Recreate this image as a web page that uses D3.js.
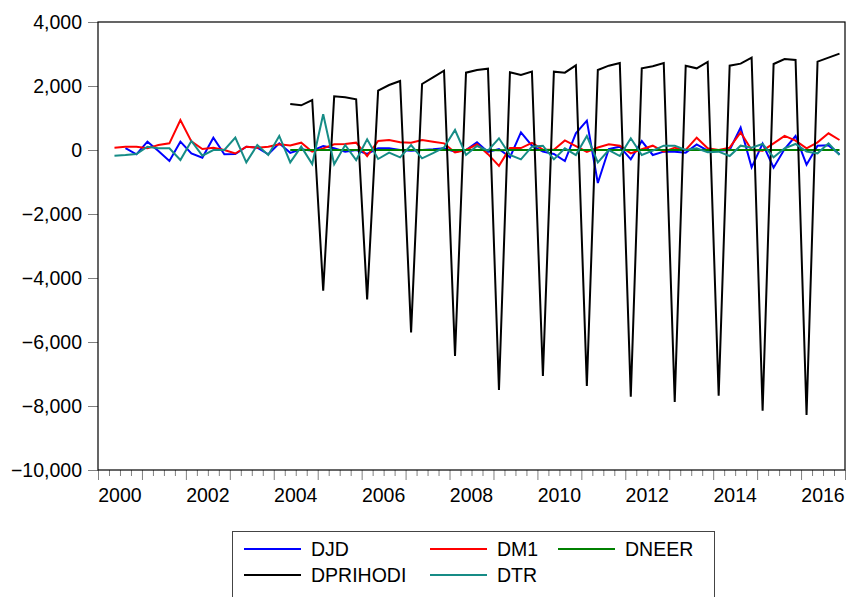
<!DOCTYPE html>
<html>
<head>
<meta charset="utf-8">
<script src="https://cdn.jsdelivr.net/npm/d3@7"></script>
<style>
  body { margin: 0; background: #fff; }
  svg { font-family: "Liberation Sans", Arial, sans-serif; }
</style>
</head>
<body>
<div id="chart"></div>
<script>
// quarterly observations, 2000Q1 .. 2016Q4 (4 values per row = one year)
var startYear = 2000, endYear = 2017;
var labelYears = [2000, 2002, 2004, 2006, 2008, 2010, 2012, 2014, 2016];
var yTicks = [4000, 2000, 0, -2000, -4000, -6000, -8000, -10000];

var djd = [
  null, null, 60, -135,
  260, -30, -344, 260,
  -104, -240, 385, -135,
  -125, 104, 73, -135,
  208, -90, 21, -20,
  125, 52, -52, 0,
  -125, 52, 52, 0,
  -21, 0, 21, 52,
  -52, 0, 240, -60,
  31, -229, 552, 135,
  -52, -125, -344, 521,
  917, -1030, 31, 104,
  -292, 281, -156, -52,
  -52, -83, 177, -20,
  -20, 0, 698, -542,
  200, -552, 30, 438,
  -460, 135, 145, -130
];
var dm1 = [
  null, 73, 104, 104,
  52, 156, 208, 938,
  270, 30, 73, 0,
  -110, 104, 73, 104,
  177, 140, 229, -52,
  52, 177, 187, 229,
  -188, 281, 313, 240,
  229, 313, 260, 208,
  -78, 0, 180, -130,
  -495, 60, 60, 220,
  15, 5, 300, 120,
  -60, 78, 177, 135,
  -104, 25, 135, -52,
  73, 0, 385, 52,
  0, 73, 552, 0,
  -21, 208, 440, 292,
  52, 240, 521, 313
];
var dneer = [
  null, null, null, null,
  null, null, null, null,
  null, null, null, null,
  null, null, null, null,
  null, 2, -1, 1,
  3, -2, 1, 2,
  -1, 2, 0, -2,
  1, 2, -1, 0,
  2, -3, 1, -1,
  -4, 3, 2, 1,
  -2, 1, 0, 2,
  -1, 1, 2, -1,
  0, 1, -2, 1,
  2, -1, 1, 0,
  -2, 1, 3, -1,
  -3, 2, 1, 0,
  1, -1, 2, 1
];
var dprihodi = [
  null, null, null, null,
  null, null, null, null,
  null, null, null, null,
  null, null, null, null,
  null, 1437, 1396, 1562,
  -4396, 1677, 1646, 1583,
  -4667, 1854, 2031, 2156,
  -5698, 2062, 2271, 2479,
  -6438, 2417, 2500, 2542,
  -7500, 2427, 2344, 2448,
  -7063, 2448, 2417, 2646,
  -7375, 2500, 2635, 2719,
  -7708, 2552, 2615, 2719,
  -7875, 2635, 2552, 2750,
  -7677, 2635, 2698, 2885,
  -8146, 2688, 2844, 2813,
  -8281, 2760, 2885, 3010
];
var dtr = [
  null, -177, -156, -125,
  104, 52, 52, -313,
  281, -177, 0, 0,
  385, -385, 156, -156,
  438, -385, 104, -440,
  1115, -448, 156, -313,
  333, -281, -83, -229,
  156, -260, -100, 80,
  625, -156, 125, -21,
  365, -156, -292, 104,
  135, -292, 52, -156,
  438, -385, 0, -188,
  365, -156, -21, 135,
  135, 0, 52, -73,
  -52, -188, 135, 73,
  188, -229, 52, 188,
  -52, -104, 208, -156
];

var series = [
  {name: "DJD", values: djd, color: "#0000ff"},
  {name: "DM1", values: dm1, color: "#ff0000"},
  {name: "DNEER", values: dneer, color: "#008000"},
  {name: "DPRIHODI", values: dprihodi, color: "#000000"},
  {name: "DTR", values: dtr, color: "#168c86"}
];

var W = 849, H = 597;
var pLeft = 98, pRight = 845, pTop = 22, pBottom = 470;
var fontSize = 19.5;

var svg = d3.select("#chart").append("svg").attr("width", W).attr("height", H);

var x = d3.scaleLinear().domain([startYear, endYear]).range([pLeft, pRight]);
var y = d3.scaleLinear().domain([-10000, 4000]).range([pBottom, pTop]);

// quarter index -> middle of that quarter
function qx(i) { return x(startYear + (i + 0.5) / 4); }

// y axis
var yAxis = d3.axisLeft(y).tickValues(yTicks).tickSize(10).tickPadding(6)
  .tickFormat(d3.format(","));
var gy = svg.append("g").attr("transform", "translate(" + pLeft + ",0)").call(yAxis);
gy.select(".domain").remove();
gy.selectAll("line").attr("stroke", "#808080");
gy.selectAll("text").attr("font-size", fontSize).attr("fill", "#000")
  .attr("font-family", "Liberation Sans, Arial, sans-serif");

// x axis: quarter ticks + year ticks
var quarterTicks = d3.range(startYear, endYear, 0.25).filter(function(d) { return d % 1 !== 0; });
var gx = svg.append("g").attr("transform", "translate(0," + pBottom + ")");
gx.call(d3.axisBottom(x).tickValues(quarterTicks).tickSize(6).tickFormat(""));
gx.select(".domain").remove();
gx.selectAll("line").attr("stroke", "#808080");
var gx2 = svg.append("g").attr("transform", "translate(0," + pBottom + ")");
gx2.call(d3.axisBottom(x).tickValues(d3.range(startYear, endYear + 1)).tickSize(10).tickFormat(""));
gx2.select(".domain").remove();
gx2.selectAll("line").attr("stroke", "#808080");

svg.append("g").selectAll("text").data(labelYears).enter().append("text")
  .attr("x", function(d) { return x(d + 0.5); })
  .attr("y", pBottom + 32)
  .attr("text-anchor", "middle")
  .attr("font-size", fontSize)
  .text(function(d) { return d; });

// series lines
var line = d3.line()
  .defined(function(d) { return d != null; })
  .x(function(d, i) { return qx(i); })
  .y(function(d) { return y(d); });

svg.append("g").selectAll("path").data(series).enter().append("path")
  .attr("d", function(s) { return line(s.values); })
  .attr("fill", "none")
  .attr("stroke", function(s) { return s.color; })
  .attr("stroke-width", 2)
  .attr("stroke-linejoin", "miter");

// frame
svg.append("rect")
  .attr("x", pLeft).attr("y", pTop)
  .attr("width", pRight - pLeft).attr("height", pBottom - pTop)
  .attr("fill", "none").attr("stroke", "#000").attr("stroke-width", 1.2);

// legend
var lg = svg.append("g");
lg.append("rect").attr("x", 232.5).attr("y", 531.5).attr("width", 482).attr("height", 80)
  .attr("fill", "#fff").attr("stroke", "#444").attr("stroke-width", 1);
var cols = [244, 430, 558];
var rows = [549, 575];
var items = lg.selectAll("g").data(series).enter().append("g")
  .attr("transform", function(d, i) {
    return "translate(" + cols[i % 3] + "," + rows[Math.floor(i / 3)] + ")";
  });
items.append("line").attr("x1", 0).attr("x2", 57).attr("y1", 0).attr("y2", 0)
  .attr("stroke", function(d) { return d.color; }).attr("stroke-width", 2);
items.append("text").attr("x", 67).attr("y", 0).attr("dy", "0.35em")
  .attr("font-size", fontSize).text(function(d) { return d.name; });
</script>
</body>
</html>
